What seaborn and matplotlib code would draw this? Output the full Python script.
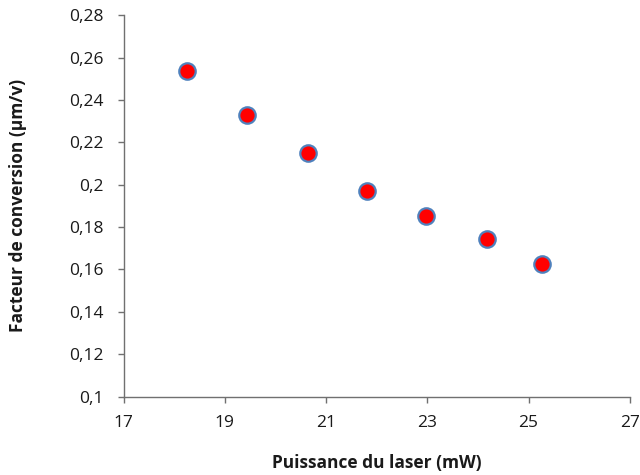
import matplotlib
matplotlib.use("Agg")
import matplotlib.pyplot as plt
import seaborn as sns
import pandas as pd
from matplotlib.ticker import FuncFormatter

puissance = [18.26, 19.44, 20.64, 21.81, 22.98, 24.18, 25.26]
facteur = [0.2535, 0.2327, 0.2149, 0.1972, 0.1854, 0.1742, 0.1627]

x_ticks = [17, 19, 21, 23, 25, 27]
y_ticks = [0.10, 0.12, 0.14, 0.16, 0.18, 0.20, 0.22, 0.24, 0.26, 0.28]

sns.set_theme(style="white")
plt.rcParams['font.family'] = ['Open Sans', 'DejaVu Sans']

df = pd.DataFrame({"Puissance": puissance, "Facteur": facteur})

fig = plt.figure(figsize=(6.4, 4.75), dpi=100)
ax = fig.add_axes([0.193, 0.165, 0.791, 0.803])

sns.scatterplot(data=df, x="Puissance", y="Facteur", ax=ax, s=140,
                color="#FF0000", edgecolor="#4F81BD", linewidth=1.6, zorder=3)

ax.set_xlim(17, 27)
ax.set_ylim(0.1, 0.28)
ax.set_xticks(x_ticks)
ax.set_yticks(y_ticks)

def fmt(v, pos):
    s = ("%.2f" % v).rstrip("0").rstrip(".")
    return s.replace(".", ",")

ax.yaxis.set_major_formatter(FuncFormatter(fmt))
ax.xaxis.set_major_formatter(FuncFormatter(lambda v, p: "%d" % round(v)))

for side in ["top", "right"]:
    ax.spines[side].set_visible(False)
for side in ["left", "bottom"]:
    ax.spines[side].set_color("#707070")
    ax.spines[side].set_linewidth(1.0)

ax.tick_params(axis="both", which="major", direction="out", length=4.3,
               width=1.0, color="#707070", labelsize=12.5, labelcolor="#1a1a1a",
               left=True, bottom=True, pad=10)
ax.tick_params(axis="x", pad=9)

ax.set_xlabel("Puissance du laser (mW)", fontsize=12.5, fontweight="bold",
              color="#1a1a1a")
ax.set_ylabel("Facteur de conversion (µm/v)", fontsize=12.5, fontweight="bold",
              color="#1a1a1a")
ax.xaxis.set_label_coords(0.5, -0.15)
ax.yaxis.set_label_coords(-0.19, 0.5)

fig.savefig("out.png", dpi=100)
